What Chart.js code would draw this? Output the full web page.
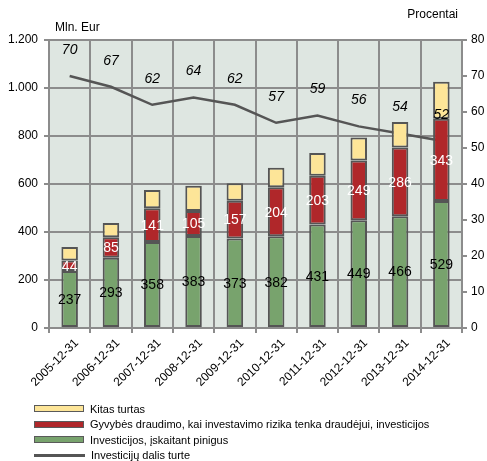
<!DOCTYPE html>
<html>
<head>
<meta charset="utf-8">
<script src="https://cdn.jsdelivr.net/npm/chart.js@4"></script>
<style>
  body { margin: 0; background: #fff; }
  #wrap { position: relative; width: 487px; height: 461px; }
  #chart { position: absolute; left: 0; top: 0; }
  #legend { position: absolute; left: 34px; top: 401px; font: 11px "Liberation Sans", Arial, sans-serif; color: #000; }
  .item { height: 15.5px; display: flex; align-items: center; }
  .box { width: 48px; height: 5px; border: 1.5px solid #5a5a5a; margin-right: 6px; }
  .line { width: 51px; height: 2.5px; background: #555; margin-right: 6px; }
</style>
</head>
<body>
<div id="wrap">
  <canvas id="chart" width="487" height="461"></canvas>
  <div id="legend"></div>
</div>
<script>
// Data
const dates = ['2005-12-31', '2006-12-31', '2007-12-31', '2008-12-31', '2009-12-31',
               '2010-12-31', '2011-12-31', '2012-12-31', '2013-12-31', '2014-12-31'];
const investicijos = [237, 293, 358, 383, 373, 382, 431, 449, 466, 529];
const gyvybes = [44, 85, 141, 105, 157, 204, 203, 249, 286, 343];
const kitas = [57, 60, 76, 105, 73, 82, 95, 96, 106, 154];
const dalis = [70, 67, 62, 64, 62, 57, 59, 56, 54, 52];

const FONT = '"Liberation Sans", Arial, sans-serif';
const GRID = '#8c8c8c';

// Plot background + axis titles
const backdrop = {
    id: 'backdrop',
    beforeDraw(chart) {
        const a = chart.chartArea, ctx = chart.ctx;
        ctx.save();
        ctx.fillStyle = '#dee6e1';
        ctx.fillRect(a.left, a.top, a.right - a.left, a.bottom - a.top);
        ctx.restore();
    },
    afterDraw(chart) {
        const ctx = chart.ctx;
        ctx.save();
        ctx.fillStyle = '#000';
        ctx.font = '12px ' + FONT;
        ctx.textBaseline = 'middle';
        ctx.textAlign = 'left';
        ctx.fillText('Mln. Eur', 55, 28);
        ctx.textAlign = 'right';
        ctx.fillText('Procentai', 458, 15);
        ctx.restore();
    }
};

// Value labels
const valueLabels = {
    id: 'valueLabels',
    afterDatasetsDraw(chart) {
        const ctx = chart.ctx;
        ctx.save();
        ctx.textAlign = 'center';
        ctx.textBaseline = 'middle';
        [0, 1].forEach(di => {
            const meta = chart.getDatasetMeta(di);
            ctx.fillStyle = di === 0 ? '#000' : '#fff';
            ctx.font = '14px ' + FONT;
            meta.data.forEach((bar, i) => {
                const mid = (bar.y + bar.base) / 2;
                ctx.fillText(chart.data.datasets[di].data[i], bar.x, mid + 1);
            });
        });
        const lm = chart.getDatasetMeta(3);
        ctx.fillStyle = '#000';
        ctx.font = 'italic 14px ' + FONT;
        lm.data.forEach((pt, i) => {
            ctx.fillText(dalis[i], pt.x, pt.y - 26);
        });
        ctx.restore();
    }
};

const chart = new Chart(document.getElementById('chart'), {
    data: {
        labels: dates,
        datasets: [
            { type: 'bar', label: 'Investicijos, įskaitant pinigus', data: investicijos,
              backgroundColor: '#78a36d', borderColor: '#555', borderWidth: 2, borderSkipped: false, yAxisID: 'y' },
            { type: 'bar', label: 'Gyvybės draudimo, kai investavimo rizika tenka draudėjui, investicijos', data: gyvybes,
              backgroundColor: '#b0272a', borderColor: '#555', borderWidth: 2, borderSkipped: false, yAxisID: 'y' },
            { type: 'bar', label: 'Kitas turtas', data: kitas,
              backgroundColor: '#fde598', borderColor: '#555', borderWidth: 2, borderSkipped: false, yAxisID: 'y' },
            { type: 'line', label: 'Investicijų dalis turte', data: dalis,
              borderColor: '#555', borderWidth: 2.5, pointRadius: 0, tension: 0, yAxisID: 'y1' }
        ]
    },
    options: {
        responsive: false,
        animation: false,
        categoryPercentage: 1,
        barPercentage: 0.4,
        layout: { padding: { top: 40, bottom: 61, left: 0, right: 0 } },
        plugins: { legend: { display: false }, tooltip: { enabled: false } },
        scales: {
            x: {
                stacked: true,
                grid: { offset: true, color: GRID, lineWidth: 2, tickLength: 5 },
                border: { color: GRID, width: 2 },
                ticks: { minRotation: 45, maxRotation: 45, labelOffset: 7, color: '#000', font: { family: FONT, size: 12 } },
                afterFit(s) { s.height = 72; }
            },
            y: {
                stacked: true, min: 0, max: 1200,
                grid: { color: GRID, lineWidth: 2, tickLength: 5 },
                border: { color: GRID, width: 2 },
                ticks: {
                    stepSize: 200, color: '#000', padding: 6, font: { family: FONT, size: 12 },
                    callback: v => v.toString().replace(/\B(?=(\d{3})+(?!\d))/g, '.')
                },
                afterFit(s) { s.width = 49; }
            },
            y1: {
                position: 'right', min: 0, max: 80,
                grid: { drawOnChartArea: false, color: GRID, lineWidth: 2, tickLength: 5 },
                border: { color: GRID, width: 2 },
                ticks: { stepSize: 10, color: '#000', padding: 4, font: { family: FONT, size: 12 } },
                afterFit(s) { s.width = 25; }
            }
        }
    },
    plugins: [backdrop, valueLabels]
});

// HTML legend: bars top-down as stacked, then the line
const legend = document.getElementById('legend');
const ds = chart.data.datasets;
[ds[2], ds[1], ds[0], ds[3]].forEach(d => {
    const row = document.createElement('div');
    row.className = 'item';
    const sw = document.createElement('span');
    if (d.type === 'line') {
        sw.className = 'line';
    } else {
        sw.className = 'box';
        sw.style.background = d.backgroundColor;
    }
    row.appendChild(sw);
    row.appendChild(document.createTextNode(d.label));
    legend.appendChild(row);
});
</script>
</body>
</html>
